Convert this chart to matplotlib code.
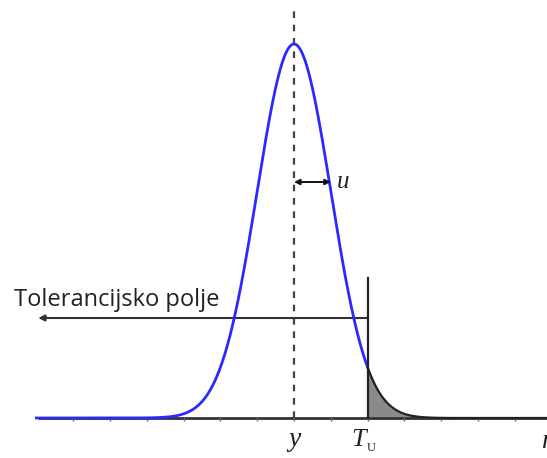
import numpy as np
import matplotlib.pyplot as plt

# normal distribution in units of sigma, mean at 0
mu = 0.0
sigma = 1.0
t_upper = 2.0          # upper tolerance limit T_U
tick_positions = [-6, -5, -4, -3, -2, -1, 0, 1, 2, 3, 4, 5, 6]
tol_left = -6.95       # where the tolerance arrow ends
axis_labels = ["y", "T", "η"]

x = np.linspace(-7.0, 7.0, 1000)
pdf = np.exp(-0.5 * ((x - mu) / sigma) ** 2)

fig = plt.figure(figsize=(5.47, 4.58), dpi=100)
ax = fig.add_axes([0, 0, 1, 1])
ax.set_xlim(-294 / 36.8, (547 - 294) / 36.8)
ax.set_ylim(-40 / 374, 418 / 374)
ax.axis("off")

# baseline and small ticks
ax.plot([-6.95, 7.0], [0, 0], color="#333333", lw=2, solid_capstyle="butt", zorder=3)
ax.plot(tick_positions, [-0.004] * len(tick_positions), linestyle="none",
        marker="|", color="#666666", markersize=3.5, zorder=3)

# curve: blue left of T_U, black beyond
left = x <= t_upper
ax.plot(x[left], pdf[left], color="#2a2aff", lw=2, zorder=4)
ax.plot(x[~left], pdf[~left], color="#222222", lw=1.6, zorder=4)
ax.fill_between(x[~left], 0, pdf[~left], color="#8a8a8a", zorder=2)

# mean line
ax.plot([mu, mu], [0, 410 / 374], color="#444444", lw=1.6,
        linestyle=(0, (3, 3)), zorder=3)

# upper limit line
ax.plot([t_upper, t_upper], [0, 140 / 374], color="#222222", lw=1.6, zorder=5)

# tolerance field arrow
ax.annotate("", xy=(tol_left, 100 / 374), xytext=(t_upper, 100 / 374),
            arrowprops=dict(arrowstyle="-|>", color="#333333", lw=1.5,
                            mutation_scale=9, shrinkA=0, shrinkB=0), zorder=3)
ax.text(-7.6, 112 / 374, "Tolerancijsko polje", family="Open Sans",
        fontsize=17, color="#222222", ha="left", va="baseline")

# sigma arrow
ax.annotate("", xy=(sigma, 236 / 374), xytext=(mu, 236 / 374),
            arrowprops=dict(arrowstyle="<|-|>", color="#111111", lw=1.4,
                            mutation_scale=8, shrinkA=0, shrinkB=0), zorder=5)
ax.text(1.15, 236 / 374, "u", family="Liberation Serif", style="italic",
        fontsize=18, color="#222222", ha="left", va="center")

# axis labels
ax.text(mu, -22 / 374, axis_labels[0], family="Liberation Serif", style="italic",
        fontsize=20, color="#222222", ha="center", va="center")
ax.text(t_upper - 0.05, -22 / 374, axis_labels[1], family="Liberation Serif",
        style="italic", fontsize=19, color="#222222", ha="right", va="center")
ax.text(t_upper - 0.02, -30 / 374, "U", family="Liberation Serif",
        fontsize=9, color="#222222", ha="left", va="center")
ax.text(6.7, -24 / 374, axis_labels[2], family="Liberation Serif", style="italic",
        fontsize=20, color="#222222", ha="left", va="center")

fig.savefig("out.png", dpi=100)
